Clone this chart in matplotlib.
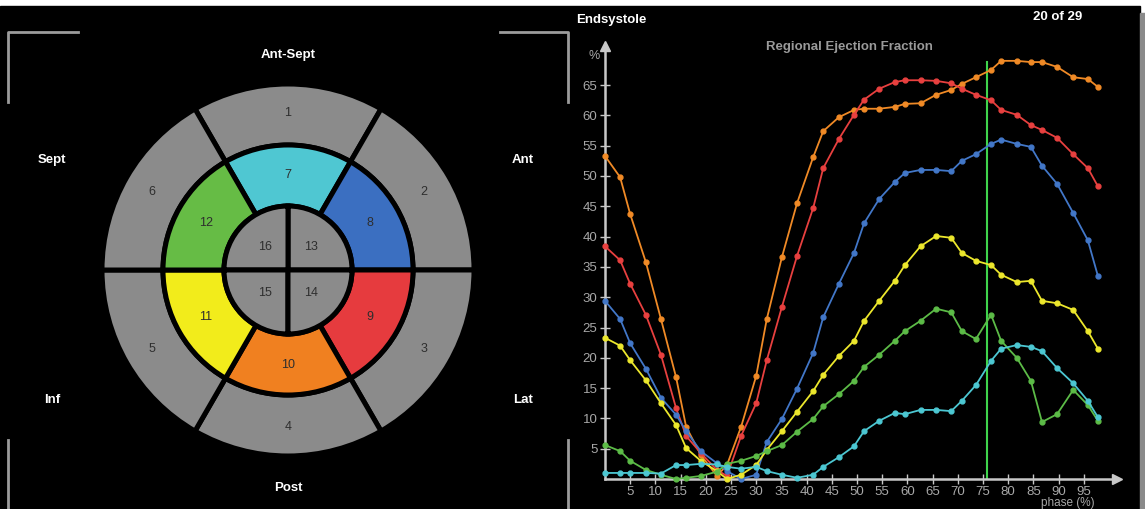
import matplotlib.pyplot as plt
from matplotlib.patches import Wedge, Rectangle
import numpy as np

plt.rcParams['font.family'] = ['Liberation Sans', 'DejaVu Sans']

# Regional ejection fraction curves
phase = [0, 3.0, 5.0, 8.1, 11.1, 14.1, 16.1, 19.0, 22.2, 24.2, 27.0, 30.0,
         32.1, 35.1, 38.1, 41.3, 43.3, 46.4, 49.4, 51.4, 54.4, 57.5, 59.5,
         62.6, 65.7, 68.7, 70.8, 73.6, 76.6, 78.6, 81.7, 84.5, 86.7, 89.7,
         92.9, 95.8, 97.8]

ef_orange = [53.3, 49.8, 43.7, 35.8, 26.4, 16.8, 8.6, 4.0, 0.5, 2.3, 8.6, 17.0,
             26.4, 36.6, 45.5, 53.1, 57.4, 59.7, 60.9, 61.1, 61.1, 61.4, 61.9,
             62.0, 63.4, 64.2, 65.2, 66.3, 67.5, 69.0, 69.0, 68.8, 68.8, 68.0,
             66.3, 66.0, 64.7]
ef_red = [38.4, 36.1, 32.2, 27.1, 20.5, 11.7, 7.1, 4.3, 1.5, 0.5, 7.1, 12.5,
          19.6, 28.4, 36.8, 44.7, 51.3, 56.1, 60.1, 62.6, 64.4, 65.5, 65.8,
          65.8, 65.7, 65.3, 64.4, 63.4, 62.5, 60.9, 60.1, 58.4, 57.6, 56.3,
          53.6, 51.3, 48.3]
ef_blue = [29.4, 26.4, 22.4, 18.2, 13.4, 10.6, 7.9, 4.6, 2.6, 1.3, 0.0, 0.7,
           6.1, 9.9, 14.9, 20.8, 26.7, 32.2, 37.3, 42.2, 46.2, 49.0, 50.5,
           51.0, 51.0, 50.8, 52.5, 53.6, 55.3, 56.0, 55.3, 54.8, 51.7, 48.7,
           43.9, 39.4, 33.5]
ef_yellow = [23.3, 22.0, 19.6, 16.3, 12.5, 8.9, 5.1, 3.0, 1.3, 0.0, 0.7, 2.3,
             4.8, 7.9, 11.1, 14.5, 17.2, 20.3, 22.8, 26.1, 29.4, 32.7, 35.3,
             38.4, 40.1, 39.8, 37.3, 36.0, 35.3, 33.7, 32.5, 32.7, 29.4, 29.0,
             27.9, 24.4, 21.5]
ef_green = [5.6, 4.6, 3.0, 1.5, 0.7, 0.0, 0.2, 0.5, 1.2, 2.5, 3.0, 3.8,
            4.6, 5.6, 7.8, 9.9, 12.0, 14.0, 16.2, 18.5, 20.5, 22.8, 24.4,
            26.1, 28.1, 27.5, 24.4, 23.1, 27.1, 22.8, 20.0, 16.2, 9.4, 10.7,
            14.7, 12.2, 9.6]
ef_cyan = [1.0, 1.0, 1.0, 1.0, 0.9, 2.3, 2.3, 2.5, 2.4, 2.0, 1.7, 2.0,
           1.3, 0.7, 0.2, 0.7, 2.0, 3.6, 5.4, 7.9, 9.6, 10.9, 10.7,
           11.4, 11.4, 11.2, 12.9, 15.5, 19.5, 21.5, 22.1, 21.8, 21.1, 18.3,
           15.8, 12.9, 10.2]

endsystole_phase = 75.8
marker_top = 68.8

# bullseye segments
outer_ids = [1, 2, 3, 4, 5, 6]
outer_angles = [(60, 120), (0, 60), (-60, 0), (240, 300), (180, 240), (120, 180)]
mid_ids = [7, 8, 9, 10, 11, 12]
mid_angles = [(60, 120), (0, 60), (-60, 0), (240, 300), (180, 240), (120, 180)]
mid_colors = ['#4fc7d2', '#3b6fc1', '#e63b3e', '#f08020', '#f2ec1b', '#66bc45']
inner_ids = [13, 16, 15, 14]
inner_angles = [(0, 90), (90, 180), (180, 270), (270, 360)]
gray = '#8b8b8b'

W, H = 1145, 509
fig = plt.figure(figsize=(W / 100, H / 100), dpi=100, facecolor='white')

# pixel-space overlay for background, bullseye and labels
bg = fig.add_axes([0, 0, 1, 1])
bg.set_xlim(0, W)
bg.set_ylim(0, H)
bg.axis('off')
bg.add_patch(Rectangle((0, 0), 1140, H - 6, color='black', zorder=0))
bg.add_patch(Rectangle((1140, 0), 5, H - 13, color='#8a8a8a', zorder=0))

def py(y):
    return H - y

cx, cy = 288, py(270)
r_out, r_mid, r_in = 186, 125, 64
lw = 3.6
for sid, (a1, a2) in zip(outer_ids, outer_angles):
    bg.add_patch(Wedge((cx, cy), r_out, a1, a2, width=r_out - r_mid,
                       facecolor=gray, edgecolor='black', lw=lw, zorder=2))
    am = np.deg2rad((a1 + a2) / 2)
    bg.text(cx + 157 * np.cos(am), cy + 157 * np.sin(am), str(sid),
            ha='center', va='center', fontsize=9, color='#2e2e2e', zorder=5)
for sid, (a1, a2), c in zip(mid_ids, mid_angles, mid_colors):
    bg.add_patch(Wedge((cx, cy), r_mid, a1, a2, width=r_mid - r_in,
                       facecolor=c, edgecolor='black', lw=lw, zorder=3))
    am = np.deg2rad((a1 + a2) / 2)
    bg.text(cx + 95 * np.cos(am), cy + 95 * np.sin(am), str(sid),
            ha='center', va='center', fontsize=9, color='#2e2e2e', zorder=5)
for sid, (a1, a2) in zip(inner_ids, inner_angles):
    bg.add_patch(Wedge((cx, cy), r_in, a1, a2,
                       facecolor=gray, edgecolor='black', lw=lw, zorder=4))
    am = np.deg2rad((a1 + a2) / 2)
    bg.text(cx + 33 * np.cos(am), cy + 33 * np.sin(am), str(sid),
            ha='center', va='center', fontsize=9, color='#2e2e2e', zorder=5)

wall_labels = [('Ant-Sept', 288, 55), ('Sept', 52, 160), ('Ant', 523, 160),
               ('Inf', 52, 400), ('Lat', 523, 400), ('Post', 288, 488)]
for txt, x, y in wall_labels:
    bg.text(x, py(y), txt, ha='center', va='center', color='white',
            fontsize=9.5, fontweight='bold')

# corner brackets
bc = '#9c9c9c'
bg.plot([8, 8, 78], [py(102), py(32), py(32)], color=bc, lw=2)
bg.plot([500, 568, 568], [py(32), py(32), py(102)], color=bc, lw=2)
bg.plot([8, 8], [py(440), py(509)], color=bc, lw=2)
bg.plot([568, 568], [py(440), py(509)], color=bc, lw=2)

bg.text(611, py(20), 'Endsystole', ha='center', va='center', color='white',
        fontsize=9.5, fontweight='bold')
bg.text(1058, py(17), '20 of 29', ha='center', va='center', color='white',
        fontsize=9.5, fontweight='bold')
bg.text(849, py(47), 'Regional Ejection Fraction', ha='center', va='center',
        color='#9a9a9a', fontsize=9.5, fontweight='bold')
bg.text(594, py(56), '%', ha='center', va='center', color='#a8a8a8', fontsize=9)
bg.text(1068, py(503), 'phase (%)', ha='center', va='center', color='#a8a8a8',
        fontsize=8.5)

# line chart
x0, y0 = 605, 479
px_x, px_y = 5.04, 6.06
xmax, ymax = 101.5, 71.5
ax = fig.add_axes([x0 / W, (H - y0) / H, xmax * px_x / W, ymax * px_y / H])
ax.set_facecolor('none')
ax.set_xlim(0, xmax)
ax.set_ylim(0, ymax)

series = [(ef_orange, '#f08a26'), (ef_red, '#e8403f'), (ef_blue, '#4277c8'),
          (ef_yellow, '#ece72c'), (ef_green, '#5cbb47'), (ef_cyan, '#4cc7d2')]
for vals, c in series:
    ax.plot(phase, vals, color=c, lw=1.3, marker='o', markersize=3.5,
            clip_on=False, zorder=3)

ax.plot([endsystole_phase, endsystole_phase], [0, marker_top], color='#3fd44c',
        lw=1.5, zorder=2)

axc = '#c8c8c8'
for s in ['top', 'right']:
    ax.spines[s].set_visible(False)
for s in ['left', 'bottom']:
    ax.spines[s].set_color(axc)
    ax.spines[s].set_linewidth(1.8)
ax.plot([1], [0], marker='>', color=axc, markersize=7, transform=ax.transAxes,
        clip_on=False)
ax.plot([0], [1], marker='^', color=axc, markersize=7, transform=ax.transAxes,
        clip_on=False)

ax.set_xticks(range(5, 100, 5))
ax.set_yticks(range(5, 70, 5))
ax.tick_params(direction='inout', length=7, width=1, color=axc,
               labelcolor='#a8a8a8', labelsize=9.5)
ax.tick_params(axis='x', pad=1.5)
ax.tick_params(axis='y', pad=2)

fig.savefig('out.png', dpi=100, facecolor=fig.get_facecolor())
